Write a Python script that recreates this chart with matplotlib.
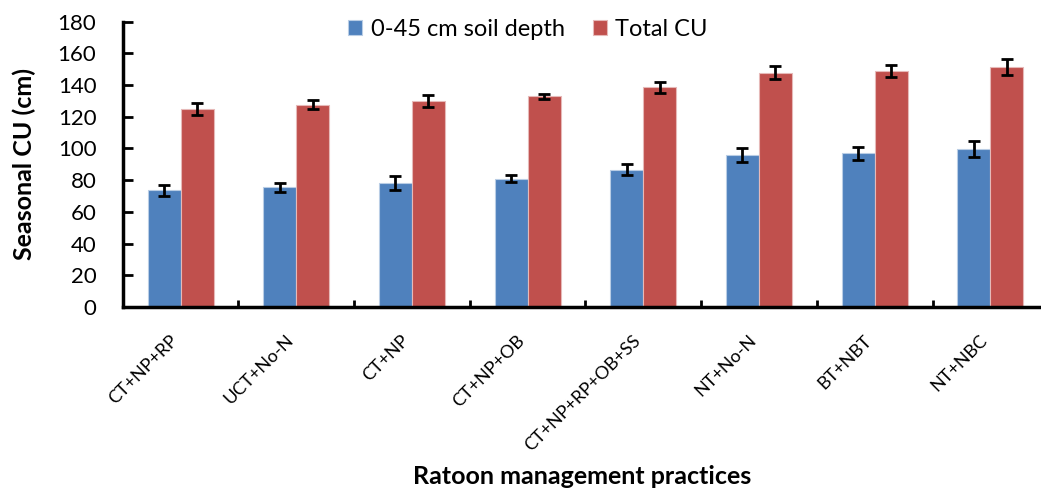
import numpy as np
import matplotlib.pyplot as plt

plt.rcParams['font.family'] = ['Lato', 'DejaVu Sans']

practices = ["CT+NP+RP", "UCT+No-N", "CT+NP", "CT+NP+OB",
             "CT+NP+RP+OB+SS", "NT+No-N", "BT+NBT", "NT+NBC"]
cu_soil = [73.5, 75.5, 78.0, 81.0, 86.5, 96.0, 97.0, 99.8]
cu_soil_err = [3.5, 2.8, 4.4, 2.0, 3.4, 4.4, 4.0, 5.2]
cu_total = [125.0, 127.5, 130.0, 133.0, 138.5, 147.8, 148.8, 151.6]
cu_total_err = [3.9, 2.8, 4.0, 1.6, 3.5, 4.2, 4.0, 5.0]

x = np.arange(len(practices))
w = 0.285

fig = plt.figure(figsize=(10.41, 4.95), dpi=100)
ax = fig.add_axes([0.1179, 0.3798, 0.889, 0.5764])

err_kw = dict(ecolor='black', elinewidth=2, capsize=4.5, capthick=2)
ax.bar(x - w / 2, cu_soil, w, yerr=cu_soil_err, color='#4F81BD',
       edgecolor='#B9CDE5', linewidth=0.8, error_kw=err_kw,
       label='0-45 cm soil depth')
ax.bar(x + w / 2, cu_total, w, yerr=cu_total_err, color='#C0504D',
       edgecolor='#E6B9B8', linewidth=0.8, error_kw=err_kw,
       label='Total CU')

ax.set_xlim(-0.5, len(practices) - 0.5)
ax.set_ylim(0, 180)
ax.set_yticks(range(0, 181, 20))
ax.tick_params(axis='y', direction='in', length=7, width=2,
               labelsize=16, pad=19)

# category labels sit under each pair, tick marks go between pairs
ax.set_xticks(x)
ax.set_xticklabels(practices, rotation=45, ha='right', fontsize=13)
ax.tick_params(axis='x', which='major', length=0, pad=18)
ax.set_xticks(np.arange(0.5, len(practices) - 0.5), minor=True)
ax.tick_params(axis='x', which='minor', direction='in', length=5, width=2)

for s in ['top', 'right']:
    ax.spines[s].set_visible(False)
for s in ['left', 'bottom']:
    ax.spines[s].set_linewidth(2.5)

ax.set_ylabel('Seasonal CU (cm)', fontsize=18, fontweight='bold')
ax.yaxis.set_label_coords(-0.094, 0.5)
fig.text(0.559, 0.022, 'Ratoon management practices', ha='center',
         fontsize=18, fontweight='bold')

ax.legend(loc='upper center', bbox_to_anchor=(0.438, 1.085), ncol=2,
          frameon=False, fontsize=17, handlelength=0.6, handleheight=0.6,
          handletextpad=0.35, columnspacing=1.2)

fig.savefig('out.png', dpi=100)
